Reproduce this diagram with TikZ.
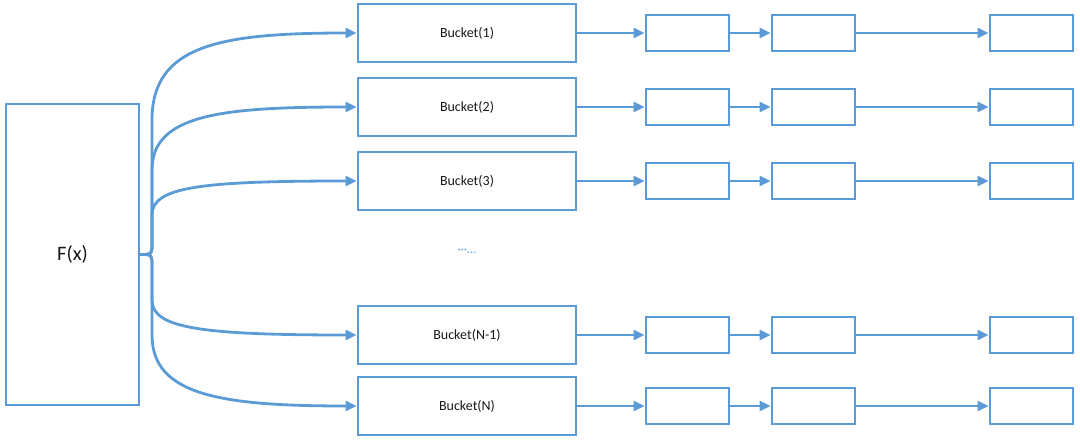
\documentclass[tikz,border=0pt]{standalone}
\usepackage{fontspec}
\setmainfont{Carlito}
\usetikzlibrary{arrows.meta}
\definecolor{ob}{RGB}{91,155,213}
\definecolor{txt}{RGB}{25,25,25}
\begin{document}
\begin{tikzpicture}[x=1pt,y=-1pt,
  box/.style={draw=ob, line width=2.8pt, inner sep=0pt, text=txt},
  bucket/.style={box, minimum width=218pt, minimum height=58pt, font=\fontsize{14}{16}\selectfont},
  cell/.style={box, minimum width=83pt, minimum height=36pt},
  link/.style={draw=ob, line width=2.8pt, -{Triangle[length=11pt,width=10pt]}}]
\useasboundingbox (0,0) rectangle (1080,444);
\node[box, minimum width=133pt, minimum height=301pt, font=\fontsize{20.5}{24}\selectfont] (fx) at (72.5,254.5) {F(x)};
\foreach \i/\y/\t in {1/33/Bucket(1), 2/107/Bucket(2), 3/181/Bucket(3), 4/335/Bucket(N-1), 5/406/Bucket(N)}{
  \node[bucket] (b\i) at (467,\y) {\t};
  \node[cell] (c\i a) at (687.5,\y) {};
  \node[cell] (c\i b) at (813.5,\y) {};
  \node[cell] (c\i c) at (1031.5,\y) {};
  \draw[link] (b\i.east) -- (c\i a.west);
  \draw[link] (c\i a.east) -- (c\i b.west);
  \draw[link] (c\i b.east) -- (c\i c.west);
}
\node[text=ob, font=\fontsize{12.5}{14}\selectfont] (dots) at (467,251) {···...};
\draw[link] (fx.east) .. controls (152,254.5) .. (152,243) -- (152,120) .. controls (152,45) and (220,33) .. (b1.west);
\draw[link] (fx.east) .. controls (152,254.5) .. (152,243) -- (152,170) .. controls (152,115) and (220,107) .. (b2.west);
\draw[link] (fx.east) .. controls (152,254.5) .. (152,243) -- (152,215) .. controls (152,187) and (200,181) .. (b3.west);
\draw[link] (fx.east) .. controls (152,254.5) .. (152,266) -- (152,300) .. controls (152,328) and (200,335) .. (b4.west);
\draw[link] (fx.east) .. controls (152,254.5) .. (152,266) -- (152,335) .. controls (152,395) and (220,406) .. (b5.west);
\end{tikzpicture}
\end{document}
